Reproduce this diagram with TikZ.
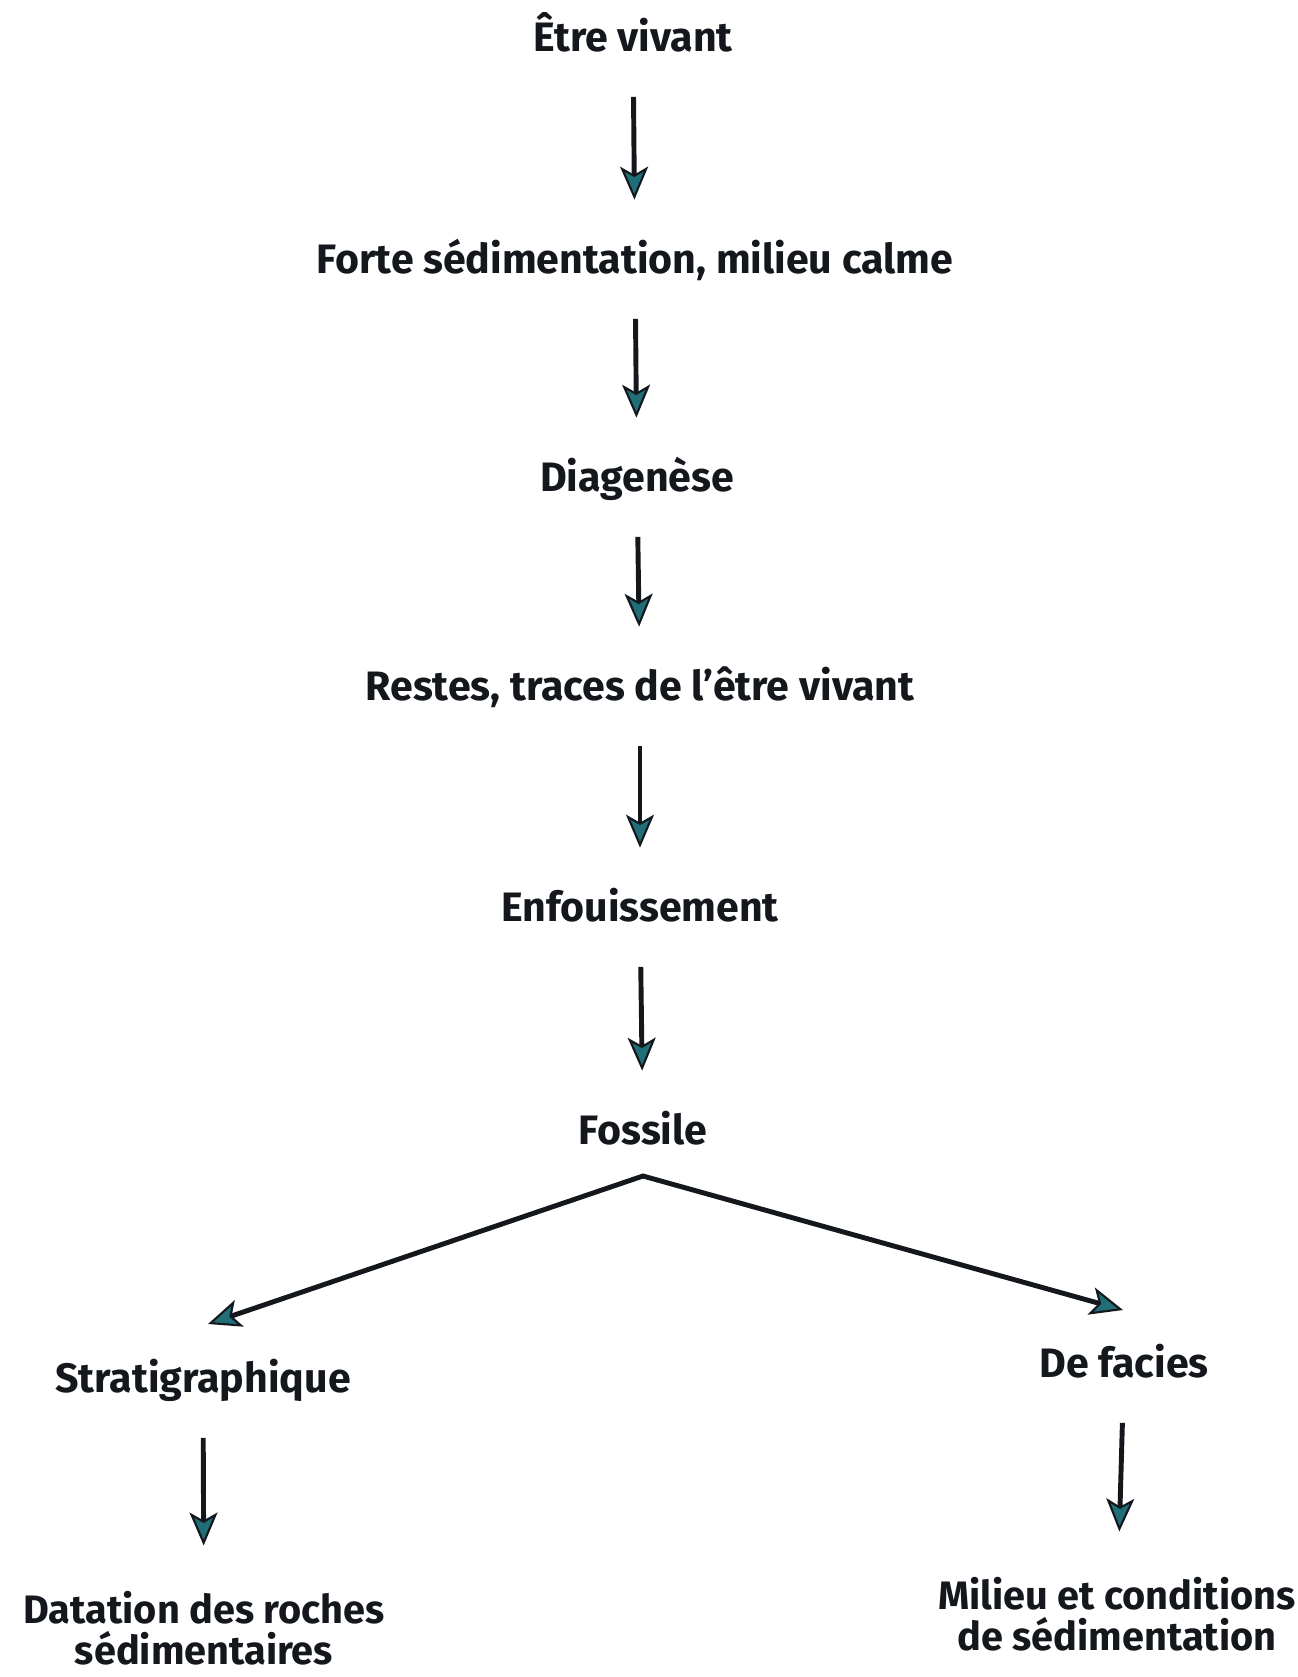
\documentclass[tikz,border=0pt]{standalone}
\usepackage{fontspec}
\setmainfont{Fira Sans}
\usetikzlibrary{arrows.meta}
\definecolor{inkline}{HTML}{14181C}
\definecolor{tipfill}{HTML}{1F6E78}
\begin{document}
\begin{tikzpicture}[x=0.02cm,y=-0.02cm]
    \tikzset{etape/.style = {inner sep=0pt, text height=0.56cm, text depth=0.13cm, text=inkline,
        font=\fontsize{23.4}{25}\selectfont\bfseries}}
    \tikzset{etapebis/.style = {inner sep=0pt, align=center, text=inkline,
        font=\fontsize{22.6}{23.6}\selectfont\bfseries}}
    \tikzset{pointe/.tip = {Stealth[length=0.66cm, width=0.56cm, inset=0.16cm, line width=1.2pt, fill=tipfill]}}
    \tikzset{fleche/.style = {draw=inkline, line width=2.8pt, -pointe, shorten <=0.78cm, shorten >=0.9cm}}
    \tikzset{fourche/.style = {draw=inkline, line width=2.8pt, pointe-pointe, line join=miter}}
    \useasboundingbox (0,0) rectangle (1298,1677);
    \node[etape, anchor=base] (etre) at (633,51) {Être vivant};
    \node[etape, anchor=base] (forte) at (635,273) {Forte sédimentation, milieu calme};
    \node[etape, anchor=base] (diag) at (637,491) {Diagenèse};
    \node[etape, anchor=base] (restes) at (640,700) {Restes, traces de l’être vivant};
    \node[etape, anchor=base] (enfouis) at (640,921) {Enfouissement};
    \node[etape, anchor=base] (fossile) at (643,1144) {Fossile};
    \node[etape, anchor=base] (strat) at (203,1392) {Stratigraphique};
    \node[etape, anchor=base] (facies) at (1124,1377) {De facies};
    \node[etapebis] (datation) at (204,1628) {Datation des roches\\sédimentaires};
    \node[etapebis] (milieu) at (1117,1614) {Milieu et conditions\\de sédimentation};
    \coordinate (apex) at (643,1176);
    \coordinate (gauche) at (208,1324);
    \coordinate (droite) at (1123,1310);
    \draw[fleche] (etre) -- (forte);
    \draw[fleche] (forte) -- (diag);
    \draw[fleche] (diag) -- (restes);
    \draw[fleche] (restes) -- (enfouis);
    \draw[fleche] (enfouis) -- (fossile);
    \draw[fourche] (gauche) -- (apex) -- (droite);
    \draw[fleche] (strat) -- (datation);
    \draw[fleche] (facies) -- (milieu);
\end{tikzpicture}
\end{document}
